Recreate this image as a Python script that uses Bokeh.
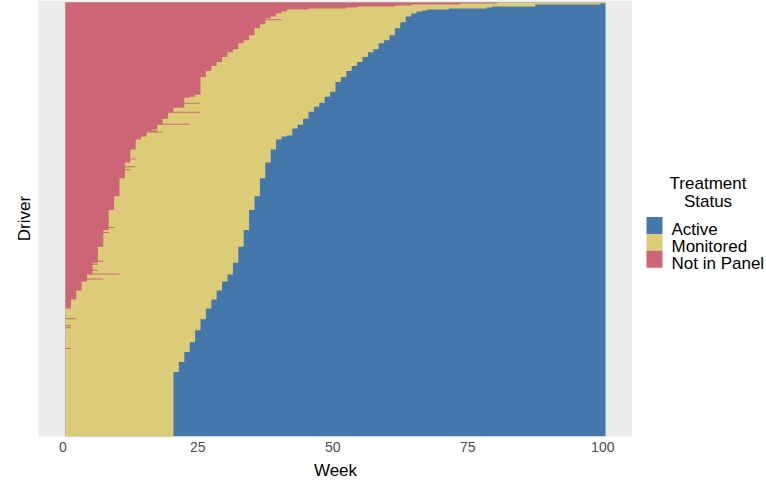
from bokeh.plotting import figure
from bokeh.models import Range1d, FixedTicker
from bokeh.layouts import row
from bokeh.embed import file_html
from bokeh.resources import INLINE
from bokeh.core.properties import value

FONT = "Liberation Sans"

# ---------------- data ----------------
first_week, last_week = 1, 100
week_ticks = [0, 25, 50, 75, 100]
status_labels = ["Active", "Monitored", "Not in Panel"]
status_colors = ["#4477AA", "#DDCC77", "#CC6677"]
legend_title = ["Treatment", "Status"]

# drivers listed from bottom row to top row
# treatment start week per block of drivers (None = never treated)
treat_weeks = [21, 22, 23, 24, 25, 26, 27, 28, 29, 30, 31, 32, 33, 34, 35, 36, 37, 38,
               39, 40, 41, 42, 43, 44, 45, 46, 47, 48, 49, 50, 51, 52, 53, 54, 55, 56,
               57, 58, 59, 60, 61, 62, 63, 64, 65, 66, 67, 68, 72, 79, 80, 88, 100, None]
treat_counts = [65, 10, 10, 10, 12, 11, 11, 9, 9, 9, 7, 12, 16, 17, 20, 14, 18, 16,
                13, 10, 3, 1, 7, 4, 6, 7, 5, 4, 6, 5, 10, 5, 6, 5, 4, 5,
                5, 3, 6, 3, 5, 7, 6, 6, 3, 2, 1, 1, 1, 1, 1, 2, 1, 1]

# first week in panel per block of drivers
entry_weeks = [1, 2, 3, 4, 5, 6, 7, 8, 9, 10, 11, 12, 13, 14, 15, 16, 17, 18, 19, 20,
               21, 23, 24, 26, 27, 28, 29, 30, 31, 32, 33, 34, 35, 36, 37, 38, 40, 41,
               42, 46, 53, 55, 62, 65, 74, 81]
entry_counts = [129, 9, 9, 9, 7, 12, 16, 17, 20, 14, 18, 16, 13, 10, 3, 4, 4, 5, 5, 7,
                4, 10, 3, 18, 6, 5, 4, 5, 5, 3, 6, 3, 5, 7, 4, 8, 3, 2,
                2, 1, 1, 1, 1, 1, 1, 1]

# individual drivers that joined later than their neighbours (row index from bottom)
late_rows = [422, 421, 419, 343, 342, 335, 326, 314, 309, 307, 306, 279, 271, 268,
             210, 205, 176, 173, 167, 163, 158, 118, 111, 109, 88]
late_weeks = [39, 39, 41, 25, 25, 26, 26, 24, 18, 18, 19, 14, 14, 13,
              10, 9, 8, 7, 7, 11, 8, 3, 2, 2, 2]


def expand(vals, counts):
    out = []
    for v, c in zip(vals, counts):
        out += [v] * c
    return out


entry = expand(entry_weeks, entry_counts)
treat = expand(treat_weeks, treat_counts)
for r, w in zip(late_rows, late_weeks):
    entry[r] = w
n_drivers = len(entry)

x_left = first_week - 0.5
x_right = last_week + 0.5


def step_region(right_edges):
    """Polygon anchored at the first week, with a stepped right edge per driver row."""
    xs, ys = [x_left], [0]
    for i, r in enumerate(right_edges):
        xs += [r, r]
        ys += [i, i + 1]
    xs.append(x_left)
    ys.append(len(right_edges))
    return xs, ys


# every week of every driver, painted in layers (Active, then Monitored, then Not in Panel)
active_edges = [x_right for _ in entry]
monitored_edges = [(last_week + 1 if t is None else t) - 0.5 for t in treat]
not_in_panel_edges = [e - 0.5 for e in entry]

# ---------------- main chart ----------------
FIG_H = 482
BOTTOM = 43
p = figure(width=632, height=FIG_H,
           x_range=Range1d(first_week - 5.5, last_week + 5.5),
           y_range=Range1d(0, n_drivers + 2),
           output_backend="svg", toolbar_location=None,
           min_border_left=38, min_border_right=0, min_border_top=0, min_border_bottom=BOTTOM)
p.background_fill_color = "#EBEBEB"
p.border_fill_color = "white"
p.outline_line_color = None
p.grid.visible = False

for edges, color in zip([active_edges, monitored_edges, not_in_panel_edges], status_colors):
    xs, ys = step_region(edges)
    p.patch(x=xs, y=ys, fill_color=color, line_color=None)

xa = p.xaxis[0]
xa.ticker = FixedTicker(ticks=week_ticks)
xa.axis_label = "Week"
xa.axis_line_color = None
xa.major_tick_line_color = None
xa.minor_tick_line_color = None
xa.major_tick_out = 0
xa.major_tick_in = 0
xa.major_label_standoff = 5
xa.major_label_text_font = FONT
xa.major_label_text_font_size = "14px"
xa.major_label_text_color = "#4D4D4D"
xa.axis_label_text_font = FONT
xa.axis_label_text_font_size = "17px"
xa.axis_label_text_font_style = "normal"
xa.axis_label_text_color = "black"
xa.axis_label_standoff = 6

ya = p.yaxis[0]
ya.ticker = FixedTicker(ticks=[])
ya.axis_label = "Driver"
ya.axis_line_color = None
ya.major_tick_line_color = None
ya.minor_tick_line_color = None
ya.axis_label_text_font = FONT
ya.axis_label_text_font_size = "17px"
ya.axis_label_text_font_style = "normal"
ya.axis_label_text_color = "black"
ya.axis_label_standoff = 5

# ---------------- legend (page-pixel coordinates: y = 482 - page_y) ----------------
LW = 134
lg = figure(width=LW, height=FIG_H, x_range=Range1d(0, LW), y_range=Range1d(BOTTOM, FIG_H),
            output_backend="svg", toolbar_location=None,
            x_axis_location=None, y_axis_location=None,
            min_border_left=0, min_border_right=0, min_border_top=0, min_border_bottom=BOTTOM)
lg.outline_line_color = None
lg.grid.visible = False
lg.background_fill_color = "white"
lg.border_fill_color = "white"

sw_top = [264, 247, 230]
lg.quad(left=[14] * 3, right=[30] * 3, top=sw_top, bottom=[t - 17 for t in sw_top],
        fill_color=status_colors, line_color=None)
lg.text(x=[39] * 3, y=[t - 13 for t in sw_top], text=status_labels,
        text_font=value(FONT), text_font_size="17px", text_color="black",
        text_baseline="alphabetic", text_align="left")
lg.text(x=[75.5, 75.5], y=[297.5, 279.5], text=legend_title,
        text_font=value(FONT), text_font_size="17px", text_color="black",
        text_baseline="alphabetic", text_align="center")

layout = row(p, lg)
open("out.html", "w").write(file_html(layout, INLINE))
